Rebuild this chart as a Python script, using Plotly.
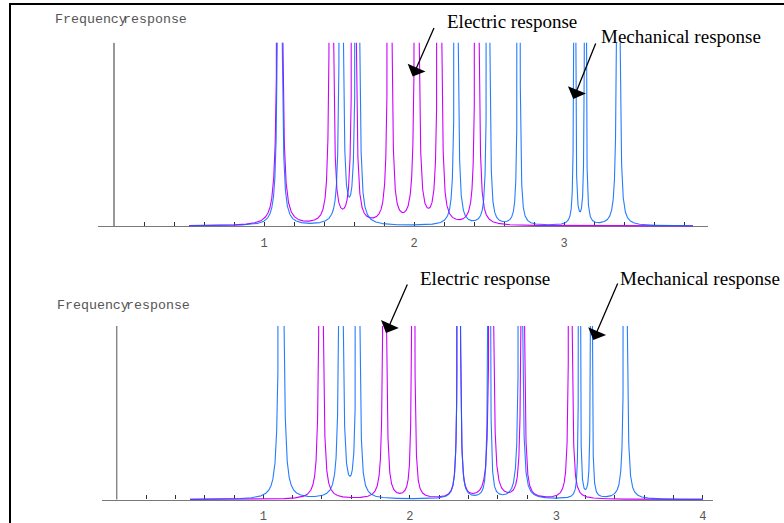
import numpy as np
import plotly.graph_objects as go

W, H = 784, 523

# Resonance frequencies and mode strengths (strength = half-width of a peak at the clipping level)
top_electric_freq = [1.105, 1.449, 1.600, 1.838, 2.018, 2.170, 2.420]
top_electric_strength = [0.0205, 0.0156, 0.0156, 0.0156, 0.0166, 0.0154, 0.0147]
top_mechanical_freq = [1.105, 1.515, 1.623, 2.282, 2.495, 2.698, 3.071, 3.142, 3.362]
top_mechanical_strength = [0.0166, 0.0147, 0.0154, 0.0133, 0.0112, 0.0096, 0.0068, 0.0068, 0.0129]

bottom_electric_freq = [1.394, 1.828, 2.023, 2.335, 2.556, 2.771, 3.096]
bottom_electric_strength = [0.0160, 0.0137, 0.0112, 0.0112, 0.0166, 0.0129, 0.0129]
bottom_mechanical_freq = [1.122, 1.530, 1.646, 2.335, 2.541, 2.756, 3.158, 3.239, 3.472]
bottom_mechanical_strength = [0.0193, 0.0160, 0.0137, 0.0112, 0.0096, 0.0147, 0.0066, 0.0066, 0.0129]

damping = 0.002
top_span = (0.5, 3.86)
bottom_span = (0.5, 4.0)

top_tick_values = [round(0.2 * i, 1) for i in range(1, 20)]
bottom_tick_values = [round(0.2 * i, 1) for i in range(1, 21)]
top_tick_labels = ["1", "2", "3"]
bottom_tick_labels = ["1", "2", "3", "4"]

ELECTRIC = "rgb(204,0,255)"
MECHANICAL = "rgb(0,102,255)"
MONO = "Liberation Mono, Courier New, monospace"
SERIF = "Liberation Serif, Times New Roman, serif"


def response(f, freqs, strengths):
    f0 = np.asarray(freqs)[None, :]
    s = np.asarray(strengths)[None, :]
    return np.sum(s ** 2 / ((f[:, None] - f0) ** 2 + damping ** 2), axis=1)


def tick_text(values, labels):
    out = []
    for v in values:
        lbl = str(int(round(v)))
        out.append(lbl if abs(v - round(v)) < 1e-9 and lbl in labels else "")
    return out


def px(x):
    return x / W


def py(y):
    return 1 - y / H


fig = go.Figure()

panels = [
    dict(xa="x", ya="y", span=top_span,
         e=(top_electric_freq, top_electric_strength),
         m=(top_mechanical_freq, top_mechanical_strength)),
    dict(xa="x2", ya="y2", span=bottom_span,
         e=(bottom_electric_freq, bottom_electric_strength),
         m=(bottom_mechanical_freq, bottom_mechanical_strength)),
]

for p in panels:
    f = np.linspace(p["span"][0], p["span"][1], 9000)
    ye = np.round(response(f, *p["e"]), 5)
    ym = np.round(response(f, *p["m"]), 5)
    fig.add_trace(go.Scatter(x=f, y=ye, mode="lines", xaxis=p["xa"], yaxis=p["ya"],
                             line=dict(color=ELECTRIC, width=1.1), showlegend=False,
                             name="Electric response"))
    fig.add_trace(go.Scatter(x=f, y=ym, mode="lines", xaxis=p["xa"], yaxis=p["ya"],
                             line=dict(color=MECHANICAL, width=1.1), opacity=0.85,
                             showlegend=False, name="Mechanical response"))

axis_common = dict(showgrid=False, zeroline=False, showline=True, linecolor="#7a7a7a",
                   linewidth=1.3, ticks="inside", ticklen=4, tickwidth=1, tickcolor="#333",
                   tickfont=dict(family=MONO, size=12, color="#555"),
                   layer="below traces", anchor="free", ticklabelstandoff=5)

# top panel: x = 0 at 114 px, 150 px per unit; baseline at 226 px, clip at 42.7 px
fig.update_layout(
    xaxis=dict(domain=[px(98), px(708)], range=[-16 / 150, 594 / 150],
               position=py(226), tickmode="array", tickvals=top_tick_values,
               ticktext=tick_text(top_tick_values, top_tick_labels), **axis_common),
    yaxis=dict(domain=[py(228.75), py(42.7)], range=[-0.015, 1], visible=False,
               anchor="x", showgrid=False, zeroline=False),
    xaxis2=dict(domain=[px(101.7), px(712.7)],
                range=[(101.7 - 116.8) / 146.5, (712.7 - 116.8) / 146.5],
                position=py(499.5), tickmode="array", tickvals=bottom_tick_values,
                ticktext=tick_text(bottom_tick_values, bottom_tick_labels), **axis_common),
    yaxis2=dict(domain=[py(502.1), py(326)], range=[-0.015, 1], visible=False,
                anchor="x2", showgrid=False, zeroline=False),
)

shapes = [
    # vertical axes at zero frequency
    dict(type="line", xref="x", yref="y", x0=0, x1=0, y0=0, y1=1,
         line=dict(color="#333", width=1), layer="below"),
    dict(type="line", xref="x2", yref="y2", x0=0, x1=0, y0=0, y1=1,
         line=dict(color="#555", width=1), layer="below"),
    # page frame
    dict(type="line", xref="paper", yref="paper", x0=px(10), x1=px(10), y0=0, y1=py(3),
         line=dict(color="black", width=2)),
    dict(type="line", xref="paper", yref="paper", x0=px(9), x1=1, y0=py(4), y1=py(4),
         line=dict(color="black", width=2)),
]

annotations = []


def label(text, x, y, family, size, color="black"):
    annotations.append(dict(text=text, xref="paper", yref="paper", x=px(x), y=py(y),
                            xanchor="left", yanchor="middle", showarrow=False,
                            font=dict(family=family, size=size, color=color)))


def arrow(xa, ya, x, y, ax, ay):
    annotations.append(dict(text="", xref=xa, yref=ya, x=x, y=y, ax=ax, ay=ay,
                            axref="pixel", ayref="pixel", showarrow=True, arrowhead=1,
                            arrowsize=2.5, arrowwidth=1.3, arrowcolor="black", standoff=0))


# axis captions (overlapping as in the original layout)
label("Frequency", 53, 20, MONO, 13.3, "#555")
label("response", 121, 20, MONO, 13.3, "#555")
label("Frequency", 55.3, 305, MONO, 13.3, "#555")
label("response", 124, 305, MONO, 13.3, "#555")

label("Electric response", 445, 22, SERIF, 19)
label("Mechanical response", 599, 36.5, SERIF, 19)
label("Electric response", 418, 278, SERIF, 19)
label("Mechanical response", 617.5, 278, SERIF, 19)

arrow("x", "y", 1.991, 0.815, 22, -50)
arrow("x", "y", 3.062, 0.693, 23, -57)
arrow("x2", "y2", 1.8375, 0.96, 22, -50)
arrow("x2", "y2", 3.2526, 0.919, 25, -58)

fig.update_layout(width=W, height=H, autosize=False,
                  margin=dict(l=0, r=0, t=0, b=0, pad=0),
                  paper_bgcolor="white", plot_bgcolor="white",
                  shapes=shapes, annotations=annotations, showlegend=False)

fig.write_html("out.html")
